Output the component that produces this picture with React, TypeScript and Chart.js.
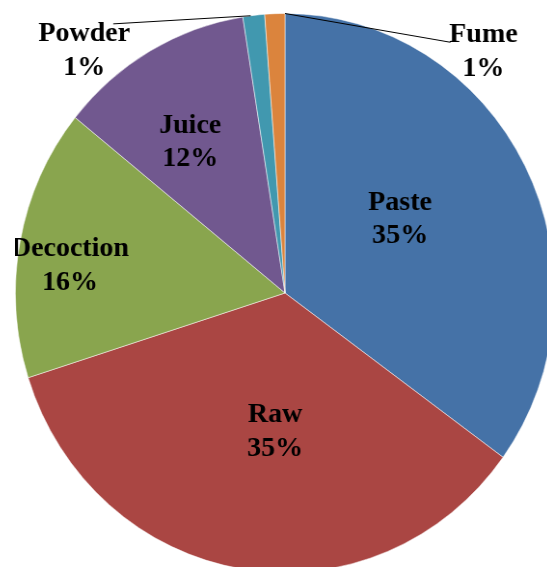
import React, { useEffect, useRef } from "react";
import { Chart, registerables } from "chart.js";

Chart.register(...registerables);

// ---- data ----
const categories = ["Paste", "Raw", "Decoction", "Juice", "Powder", "Fume"];
const shares = [35.0, 35.1, 15.7, 11.7, 1.3, 1.2];
const sliceColors = ["#4572A7", "#AA4643", "#89A54E", "#71588F", "#4198AF", "#DB843D"];

// ---- layout / style ----
const SX = 0.9642; // horizontal squeeze of the original (elliptical pie)
const SIZE = 560;
const FAMILY = "'Liberation Serif', 'Times New Roman', Times, serif";
const FONT = "bold 28px " + FAMILY;
// label placement relative to slice mid-angle (deg) and radius fraction
const LABEL_LAYOUT = [
  { dAngle: -5.4, r: 0.506 },
  { dAngle: -4.9, r: 0.49 },
  { dAngle: -3.1, r: 0.805 },
  { dAngle: -2.7, r: 0.65 },
  { dAngle: -33.8, r: 1.148, leader: { frac: 0.36, dx: 29, dy: -25 } },
  { dAngle: 42.4, r: 1.14, leader: { frac: 1.0, dx: -33, dy: -7.5 } },
];

const labelPlugin = {
  id: "sliceLabels",
  afterDatasetsDraw(chart: any) {
    const ctx = chart.ctx as CanvasRenderingContext2D;
    const meta = chart.getDatasetMeta(0);
    const total = shares.reduce((a, b) => a + b, 0);
    meta.data.forEach((arc: any, i: number) => {
      const { x, y, startAngle, endAngle, outerRadius } = arc.getProps(
        ["x", "y", "startAngle", "endAngle", "outerRadius"],
        true
      );
      const lay = LABEL_LAYOUT[i];
      const mid = (startAngle + endAngle) / 2 + (lay.dAngle * Math.PI) / 180;
      const lx = x + Math.cos(mid) * lay.r * outerRadius;
      const ly = y + Math.sin(mid) * lay.r * outerRadius;
      ctx.save();
      if (lay.leader) {
        const a = startAngle + lay.leader.frac * (endAngle - startAngle);
        ctx.beginPath();
        ctx.moveTo(x + Math.cos(a) * outerRadius, y + Math.sin(a) * outerRadius);
        ctx.lineTo(lx + lay.leader.dx / SX, ly + lay.leader.dy);
        ctx.strokeStyle = "#000";
        ctx.lineWidth = 1;
        ctx.stroke();
      }
      ctx.translate(lx, ly);
      ctx.scale(1 / SX, 1);
      ctx.font = FONT;
      ctx.fillStyle = "#000";
      ctx.textAlign = "center";
      ctx.textBaseline = "alphabetic";
      const pct = Math.round((shares[i] / total) * 100) + "%";
      ctx.fillText(categories[i], 0, -7.5);
      ctx.fillText(pct, 0, 26);
      ctx.restore();
    });
  },
};

export default function App() {
  const ref = useRef<HTMLCanvasElement | null>(null);
  useEffect(() => {
    let chart: Chart | null = null;
    let cancelled = false;
    const build = () => {
      if (cancelled || !ref.current) return;
      chart = new Chart(ref.current, {
        type: "pie",
        data: {
          labels: categories,
          datasets: [
            {
              data: shares,
              backgroundColor: sliceColors,
              borderColor: "rgba(255,255,255,0.5)",
              borderWidth: 1,
            },
          ],
        },
        options: {
          responsive: false,
          maintainAspectRatio: false,
          animation: false,
          layout: { padding: 0 },
          plugins: { legend: { display: false }, tooltip: { enabled: false } },
        },
        plugins: [labelPlugin],
      });
    };
    const fonts: any = (document as any).fonts;
    if (fonts && fonts.load) {
      fonts.load(FONT, "PasteRaw%").then(build, build);
    } else {
      build();
    }
    return () => {
      cancelled = true;
      if (chart) chart.destroy();
    };
  }, []);

  return (
    <div
      style={{
        position: "fixed",
        left: 0,
        top: 0,
        width: 547,
        height: 567,
        overflow: "hidden",
        background: "#fff",
      }}
    >
      <div
        style={{
          position: "absolute",
          left: 15,
          top: 13,
          width: SIZE,
          height: SIZE,
          transform: `scaleX(${SX})`,
          transformOrigin: "0 0",
        }}
      >
        <canvas ref={ref} width={SIZE} height={SIZE} style={{ display: "block" }} />
      </div>
    </div>
  );
}
